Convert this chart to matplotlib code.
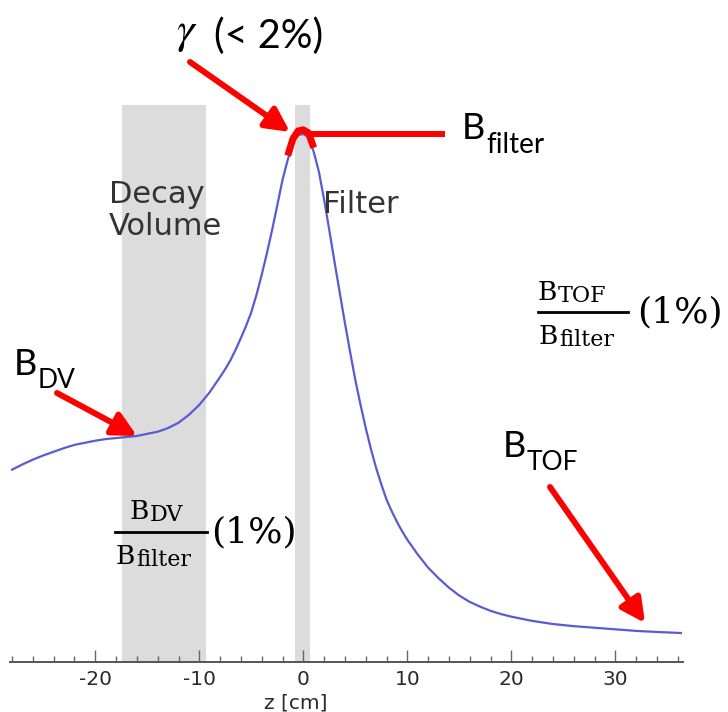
import matplotlib
matplotlib.use("Agg")
import matplotlib.pyplot as plt
from matplotlib.patches import FancyArrowPatch
from matplotlib.lines import Line2D
from matplotlib.ticker import MultipleLocator
import matplotlib.transforms as mtransforms

plt.rcParams["axes.unicode_minus"] = False

# On-axis field profile, relative to the filter peak
z_cm = [-28.0, -27.0, -26.0, -25.0, -24.0, -23.0, -22.0, -21.0, -20.0, -19.0,
        -18.0, -17.0, -16.0, -15.0, -14.0, -13.0, -12.0, -11.0, -10.0, -9.0,
        -8.0, -7.5, -7.0, -6.5, -6.0, -5.5, -5.0, -4.5, -4.0, -3.5,
        -3.0, -2.5, -2.0, -1.5, -1.0, -0.5, 0.0, 0.5, 1.0, 1.5,
        2.0, 2.5, 3.0, 3.5, 4.0, 4.5, 5.0, 5.5, 6.0, 6.5,
        7.0, 7.5, 8.0, 8.5, 9.0, 9.5, 10.0, 11.0, 12.0, 13.0,
        14.0, 15.0, 16.0, 17.0, 18.0, 19.0, 20.0, 22.0, 24.0, 26.0,
        28.0, 30.0, 32.0, 34.0, 36.3]
b_rel = [0.361, 0.371, 0.380, 0.388, 0.395, 0.402, 0.408, 0.412, 0.416, 0.419,
         0.421, 0.423, 0.425, 0.429, 0.433, 0.440, 0.450, 0.465, 0.484, 0.508,
         0.537, 0.552, 0.569, 0.589, 0.611, 0.634, 0.660, 0.693, 0.731, 0.772,
         0.816, 0.863, 0.911, 0.949, 0.981, 0.996, 0.998, 0.992, 0.964, 0.926,
         0.873, 0.815, 0.755, 0.697, 0.639, 0.584, 0.531, 0.484, 0.440, 0.400,
         0.364, 0.333, 0.304, 0.282, 0.262, 0.244, 0.228, 0.200, 0.175, 0.155,
         0.137, 0.122, 0.110, 0.101, 0.093, 0.087, 0.082, 0.074, 0.068, 0.064,
         0.061, 0.058, 0.055, 0.053, 0.051]

# shaded regions [cm]
decay_volume = (-17.4, -9.4)
filter_region = (-0.8, 0.6)

# peak segment highlighted in red (index range into z_cm: -1.5 .. 1.0 cm)
peak_start, peak_stop = 33, 39

W, H = 728, 712
fig = plt.figure(figsize=(W / 100, H / 100), dpi=100)
ax = fig.add_axes([10 / W, 50 / H, 673 / W, 557 / H])


def px(x, y):
    """picture pixel -> figure fraction"""
    return (x / W, 1 - y / H)


ax.axvspan(*decay_volume, color="#dcdcdc", lw=0, zorder=0)
ax.axvspan(*filter_region, color="#dcdcdc", lw=0, zorder=0)
ax.plot(z_cm, b_rel, color="#5a5ad2", lw=1.6, zorder=2)

# red cap over the peak, slightly above the curve
cap_tr = ax.transData + mtransforms.ScaledTranslation(0, 3 / 72, fig.dpi_scale_trans)
ax.plot(z_cm[peak_start:peak_stop], b_rel[peak_start:peak_stop], color="red",
        lw=5, solid_capstyle="butt", transform=cap_tr, zorder=3)

ax.set_xlim(-28.2, 36.5)
ax.set_ylim(-0.004, 1.053)
for s in ["left", "right", "top"]:
    ax.spines[s].set_visible(False)
ax.spines["bottom"].set_color("#555555")
ax.spines["bottom"].set_linewidth(1.4)
ax.set_yticks([])
ax.xaxis.set_major_locator(MultipleLocator(10))
ax.xaxis.set_minor_locator(MultipleLocator(2))
ax.tick_params(axis="x", which="major", direction="in", length=9, width=1,
               color="#666666", labelsize=14.5, labelcolor="#2a2a2a", pad=6)
ax.tick_params(axis="x", which="minor", direction="in", length=4.5, width=1,
               color="#666666")
ax.set_xlabel("z [cm]", fontsize=14.5, color="#2a2a2a")
ax.xaxis.set_label_coords(0.425, -0.057)

ax.text(-18.7, 0.853, "Decay\nVolume", ha="left", va="center", fontsize=22,
        color="#333333", linespacing=1.1)
ax.text(1.9, 0.865, "Filter", ha="left", va="center", fontsize=22, color="#333333")


# ---- annotations (red) ----
def arrow(p0, p1):
    a = FancyArrowPatch(px(*p0), px(*p1), transform=fig.transFigure,
                        arrowstyle="-|>,head_length=0.55,head_width=0.28",
                        mutation_scale=26, color="red", lw=4.3,
                        shrinkA=0, shrinkB=0, zorder=5)
    fig.patches.append(a)


def hline(x0, x1, y, lw, color):
    fig.lines.append(Line2D([x0 / W, x1 / W], [1 - y / H, 1 - y / H],
                            transform=fig.transFigure, color=color, lw=lw))


def bsub(x, y, sub, size, subsize, drop, family, gap=0.5):
    """'B' with a subscript, baseline at picture pixel (x, y)"""
    t = fig.text(*px(x, y), "B", fontsize=size, family=family, va="baseline", ha="left")
    ax.annotate(sub, xy=(1, 1 - y / H), xycoords=(t, "figure fraction"),
                xytext=(gap, -drop), textcoords="offset points",
                fontsize=subsize, family=family, va="baseline", ha="left",
                annotation_clip=False)


arrow((190, 62), (290, 132))
arrow((57, 393), (137, 436))
arrow((550, 487), (645, 623))
hline(311, 442, 134, 4.3, "red")

bsub(14, 375, "DV", 26, 19, 9.5, "Lato")
bsub(503, 457, "TOF", 26, 19, 9.5, "Lato")
bsub(462, 139, "filter", 26, 20, 10, "Lato")

fig.text(*px(176, 33), r"$\gamma$", fontsize=32, math_fontfamily="stix",
         va="center", ha="left")
fig.text(*px(214, 36), "(< 2%)", fontsize=28.5, family="Lato", va="center", ha="left")

# fractions B/B_filter (1%)
serif = "DejaVu Serif"
bsub(130, 519, "DV", 19, 16, 1.5, serif)
hline(115, 207, 532, 2, "black")
bsub(116, 564, "filter", 19, 16, 1.5, serif)
fig.text(*px(254, 532), "(1%)", fontsize=26, family=serif, va="center", ha="center")

bsub(538, 300, "TOF", 19, 16, 1.5, serif)
hline(538, 628, 312, 2, "black")
bsub(539, 344, "filter", 19, 16, 1.5, serif)
fig.text(*px(680, 312), "(1%)", fontsize=26, family=serif, va="center", ha="center")

fig.savefig("out.png", dpi=100)
